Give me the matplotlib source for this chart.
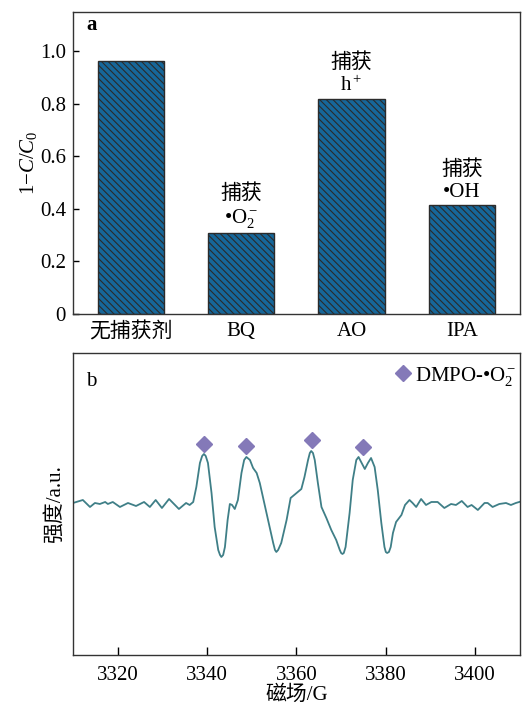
import matplotlib
matplotlib.use("Agg")
import matplotlib.pyplot as plt
from matplotlib.lines import Line2D

plt.rcParams['font.family'] = ['Liberation Serif', 'Noto Sans CJK SC']
plt.rcParams['mathtext.fontset'] = 'custom'
plt.rcParams['mathtext.rm'] = 'Liberation Serif'
plt.rcParams['mathtext.it'] = 'Liberation Serif:italic'
plt.rcParams['font.size'] = 15
plt.rcParams['hatch.linewidth'] = 0.8
plt.rcParams['hatch.color'] = '#16222e'

# panel a: scavenger test
scavengers = ['无捕获剂', 'BQ', 'AO', 'IPA']
removal = [0.963, 0.309, 0.819, 0.416]
trapped = ['', '捕获\n•O$_2^-$', '捕获\nh$^+$', '捕获\n•OH']

# panel b: EPR spectrum (field in G, intensity in a.u.)
field = [3310.0, 3312.2, 3313.8, 3314.9, 3316.0, 3317.2, 3317.8, 3318.9, 3320.5, 3322.3,
         3324.1, 3325.9, 3327.2, 3328.5, 3329.9, 3331.5, 3333.7, 3335.3, 3336.1, 3336.9,
         3337.6, 3338.4, 3338.9, 3339.3, 3339.7, 3340.2, 3341.0, 3341.7, 3342.5, 3342.9,
         3343.2, 3343.6, 3344.0, 3344.6, 3345.1, 3345.6, 3346.2, 3346.9, 3347.7, 3348.3,
         3348.8, 3349.6, 3350.3, 3351.1, 3351.8, 3352.9, 3354.0, 3354.8, 3355.2, 3355.5,
         3355.9, 3356.6, 3357.8, 3358.7, 3359.5, 3360.3, 3361.1, 3361.8, 3362.6, 3363.0,
         3363.3, 3363.7, 3364.1, 3364.8, 3365.6, 3366.7, 3367.8, 3368.9, 3369.7, 3370.0,
         3370.3, 3370.6, 3371.0, 3371.9, 3372.6, 3373.4, 3373.9, 3374.6, 3375.3, 3376.0,
         3376.7, 3377.5, 3378.2, 3379.0, 3379.7, 3380.0, 3380.3, 3380.7, 3381.1, 3381.6,
         3382.3, 3383.5, 3384.3, 3385.3, 3386.0, 3386.8, 3387.9, 3389.0, 3390.2, 3391.6,
         3393.1, 3394.6, 3395.7, 3397.0, 3398.3, 3399.2, 3400.6, 3402.1, 3402.8, 3403.9,
         3405.4, 3406.9, 3408.0, 3409.1, 3410.6]
intensity = [1, 4, -3, 1, 0, 2, 0, 2, -3, 1,
             -2, 2, -3, 4, -4, 5, -5, 1, -1, 2,
             17, 41, 48, 50, 48, 41, 11, -23, -46, -51,
             -53, -51, -43, -16, 0, -1, -5, 4, 31, 44,
             47, 44, 36, 31, 21, -1, -23, -39, -46, -48,
             -46, -39, -16, 6, 9, 12, 15, 27, 44, 51,
             53, 51, 44, 21, -3, -14, -26, -36, -46, -49,
             -50, -49, -43, -9, 24, 44, 47, 41, 35, 41,
             46, 37, 14, -19, -43, -48, -49, -48, -43, -29,
             -18, -11, -1, 4, 1, -3, 5, -1, 2, 2,
             -4, 0, -1, 3, -3, -1, -6, 1, 1, -3,
             0, 1, -1, 1, 3]
peak_field = [3339.3, 3348.8, 3363.5, 3375.0]
peak_mark = [60, 58, 64, 57]

fig = plt.figure(figsize=(5.31, 7.08), dpi=100)
ax1 = fig.add_axes([0.1375, 0.5565, 0.8415, 0.4265])
ax2 = fig.add_axes([0.1375, 0.0749, 0.8415, 0.4265])

xs = range(len(scavengers))
ax1.bar(xs, removal, width=0.6, color='#16679a', edgecolor='#2b2b2b',
        linewidth=1.0, hatch='\\\\\\\\\\')
for x, v, t in zip(xs, removal, trapped):
    if t:
        ax1.annotate(t, (x, v), xytext=(0, 2), textcoords='offset points',
                     ha='center', va='bottom', linespacing=1.2)
ax1.set_xlim(-0.525, 3.525)
ax1.set_ylim(0, 1.148)
ax1.set_xticks(list(xs))
ax1.set_xticklabels(scavengers)
ax1.set_yticks([0, 0.2, 0.4, 0.6, 0.8, 1.0])
ax1.set_yticklabels(['0', '0.2', '0.4', '0.6', '0.8', '1.0'])
ax1.tick_params(axis='y', direction='in', length=4, width=1, pad=5)
ax1.tick_params(axis='x', length=0, pad=6)
ax1.set_ylabel('1−$C$/$C_0$', labelpad=1)
ax1.text(0.03, 0.94, 'a', transform=ax1.transAxes, fontsize=15, fontweight='bold')

ax2.plot(field, intensity, color='#3f7f87', linewidth=1.3, solid_joinstyle='round')
ax2.plot(peak_field, peak_mark, 'D', color='#8479b8', markersize=8, linestyle='none')
ax2.set_xlim(3310, 3410)
ax2.set_ylim(-151, 151)
ax2.set_xticks([3320, 3340, 3360, 3380, 3400])
ax2.set_yticks([])
ax2.tick_params(axis='x', direction='in', length=6, width=1, pad=8)
ax2.set_xlabel('磁场/G', labelpad=0)
ax2.set_ylabel('强度/a.u.', labelpad=6)
ax2.text(0.03, 0.89, 'b', transform=ax2.transAxes, fontsize=15)
handle = Line2D([], [], marker='D', color='#8479b8', markersize=8, linestyle='none')
ax2.legend([handle], ['DMPO-•O$_2^-$'], loc='upper right', frameon=False,
           handletextpad=0.1, borderaxespad=0.0, borderpad=0.15,
           handlelength=1.0, bbox_to_anchor=(1.0, 0.972))

for ax in (ax1, ax2):
    for s in ax.spines.values():
        s.set_color('#333333')
        s.set_linewidth(1.0)

fig.savefig('out.png', dpi=100)
